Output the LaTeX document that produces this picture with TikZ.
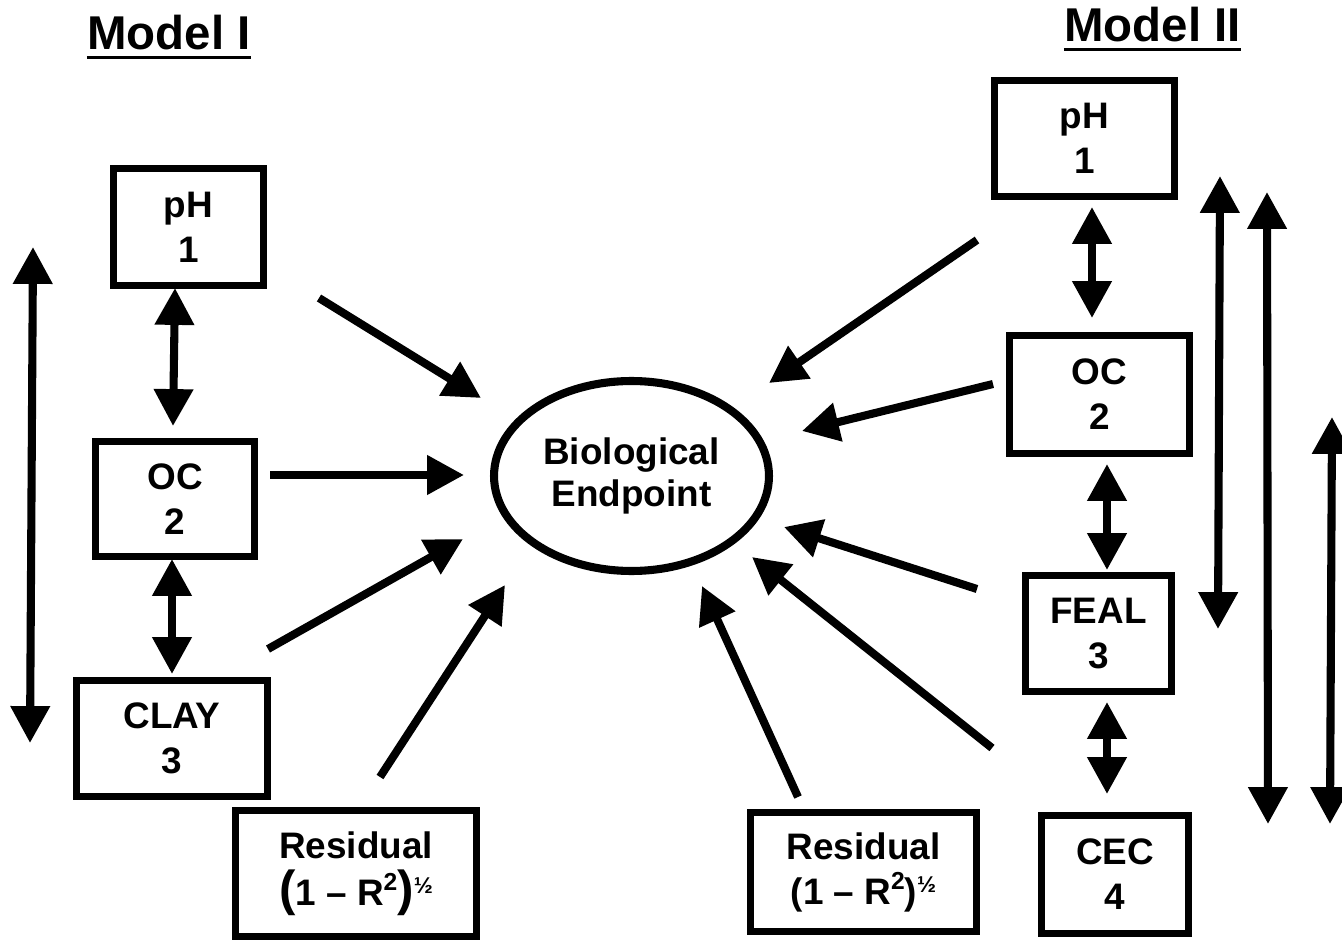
\documentclass[tikz,border=0pt]{standalone}
\usepackage{fontspec}
\setmainfont{Liberation Sans}
\usetikzlibrary{arrows.meta,shapes.geometric}
\tikzset{
  box/.style={draw, line width=4.3pt, inner sep=0pt, align=center,
    font=\fontsize{21}{25.6}\selectfont\bfseries},
  bio/.style={ellipse, draw, line width=4.6pt, inner sep=0pt, align=center,
    minimum width=5.5cm, minimum height=3.8cm,
    font=\fontsize{21}{24}\selectfont\bfseries},
  title/.style={inner sep=0pt, anchor=base, font=\fontsize{27}{30}\selectfont\bfseries},
  uline/.style={line width=1.8pt},
  tip/.tip={Triangle[length=21pt,width=21.5pt]},
  arr/.style={line width=4.6pt, -tip},
  darr/.style={line width=4.6pt, tip-tip}
}
\newcommand{\halfsup}{\raisebox{0.6ex}{\fontsize{13}{13}\selectfont ½}}
\newcommand{\sqsup}{\raisebox{0.75ex}{\fontsize{14}{14}\selectfont 2}}
\begin{document}
\begin{tikzpicture}[x=0.02cm, y=-0.02cm]
\useasboundingbox[fill=white] (0,0) rectangle (1342,942);

% titles
\node[title] (t1) at (169,50) {Model I};
\node[title] (t2) at (1152.5,42) {Model II};
\draw[uline] ([yshift=-4.5pt]t1.base west) -- ([yshift=-4.5pt]t1.base east);
\draw[uline] ([yshift=-4.5pt]t2.base west) -- ([yshift=-4.5pt]t2.base east);

% central ellipse
\node[bio] (bio) at (631.5,476) {Biological\\Endpoint};

% Model I boxes
\node[box, minimum width=3.0cm, minimum height=2.34cm] (ph1) at (188.5,227) {pH\\1};
\node[box, minimum width=3.18cm, minimum height=2.30cm] (oc1) at (175,499) {OC\\2};
\node[box, minimum width=3.82cm, minimum height=2.32cm] (clay1) at (172,738.5) {CLAY\\3};
\node[box, minimum width=4.82cm, minimum height=2.52cm] (res1) at (356,873.5)
  {Residual\\[1pt]{\fontsize{28}{28}\selectfont(}1 – R\sqsup{\fontsize{28}{28}\selectfont)}\halfsup};

% Model II boxes
\node[box, minimum width=3.60cm, minimum height=2.32cm] (ph2) at (1084.5,138.5) {pH\\1};
\node[box, minimum width=3.60cm, minimum height=2.36cm] (oc2) at (1099.5,394.5) {OC\\2};
\node[box, minimum width=2.92cm, minimum height=2.32cm] (feal2) at (1098.5,633.5) {FEAL\\3};
\node[box, minimum width=2.94cm, minimum height=2.36cm] (cec2) at (1115,874.5) {CEC\\4};
\node[box, minimum width=4.52cm, minimum height=2.38cm] (res2) at (863.5,872)
  {Residual\\(1 – R\sqsup)\halfsup};

% connector end points
\coordinate (a1s) at (319,298);  \coordinate (a1e) at (481,398);
\coordinate (a2s) at (270,475);  \coordinate (a2e) at (464,475);
\coordinate (a3s) at (268,649);  \coordinate (a3e) at (463,539);
\coordinate (a4s) at (380,777);  \coordinate (a4e) at (505,585);
\coordinate (b1s) at (977,240);  \coordinate (b1e) at (769,383);
\coordinate (b2s) at (993,384);  \coordinate (b2e) at (802,431);
\coordinate (b3s) at (977,589);  \coordinate (b3e) at (784,527);
\coordinate (b4s) at (992,748);  \coordinate (b4e) at (752,557);
\coordinate (b5s) at (798,797);  \coordinate (b5e) at (702,586);

\coordinate (L0a) at (33,247);   \coordinate (L0b) at (30,743);
\coordinate (L1a) at (175,288);  \coordinate (L1b) at (173,426);
\coordinate (L2a) at (172,559);  \coordinate (L2b) at (172,674);
\coordinate (R1a) at (1092,207); \coordinate (R1b) at (1092,318);
\coordinate (R2a) at (1107,464); \coordinate (R2b) at (1107,570);
\coordinate (R3a) at (1107,702); \coordinate (R3b) at (1107,794);
\coordinate (V1a) at (1220,176); \coordinate (V1b) at (1218,629);
\coordinate (V2a) at (1267,192); \coordinate (V2b) at (1268,824);
\coordinate (V3a) at (1332,417); \coordinate (V3b) at (1330,824);

% arrows into the endpoint
\draw[arr] (a1s) -- (a1e);
\draw[arr] (a2s) -- (a2e);
\draw[arr] (a3s) -- (a3e);
\draw[arr] (a4s) -- (a4e);
\draw[arr] (b1s) -- (b1e);
\draw[arr] (b2s) -- (b2e);
\draw[arr] (b3s) -- (b3e);
\draw[arr] (b4s) -- (b4e);
\draw[arr] (b5s) -- (b5e);

% double arrows
\draw[darr] (L0a) -- (L0b);
\draw[darr] (L1a) -- (L1b);
\draw[darr] (L2a) -- (L2b);
\draw[darr] (R1a) -- (R1b);
\draw[darr] (R2a) -- (R2b);
\draw[darr] (R3a) -- (R3b);
\draw[darr] (V1a) -- (V1b);
\draw[darr] (V2a) -- (V2b);
\draw[darr] (V3a) -- (V3b);
\end{tikzpicture}
\end{document}
